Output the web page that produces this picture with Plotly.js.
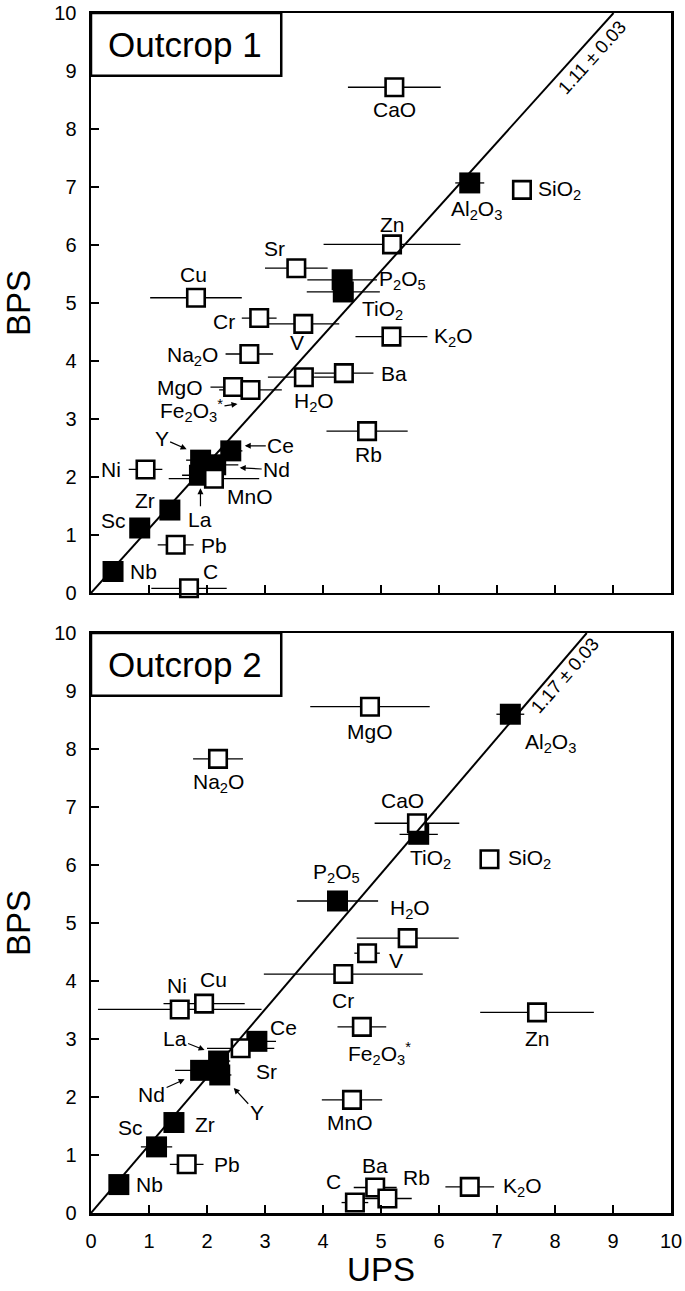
<!DOCTYPE html>
<html>
<head>
<meta charset="utf-8">
<script src="https://cdn.plot.ly/plotly-3.0.1.min.js"></script>
<style>
  body { margin: 0; background: #fff; }
  #chart { width: 685px; height: 1291px; }
</style>
</head>
<body>
<div id="chart"></div>
<script>
// ---- Outcrop 1 ----
// filled squares
var o1FillNames = ['Al<sub>2</sub>O<sub>3</sub>', 'P<sub>2</sub>O<sub>5</sub>', 'TiO<sub>2</sub>', 'Ce', 'Nd', 'Y', 'La', 'Zr', 'Sc', 'Nb'];
var o1FillUPS = [6.53, 4.33, 4.35, 2.41, 2.15, 1.89, 1.87, 1.36, 0.84, 0.38];
var o1FillBPS = [7.07, 5.40, 5.19, 2.45, 2.21, 2.29, 2.03, 1.43, 1.12, 0.37];
var o1FillErr = [0.25, 0.60, 0.63, 0.20, 0.39, 0.25, 0.30, 0, 0, 0];
// open squares
var o1OpenNames = ['CaO', 'SiO<sub>2</sub>', 'Zn', 'Sr', 'Cu', 'Cr', 'V', 'Na<sub>2</sub>O', 'MgO', 'Fe<sub>2</sub>O<sub>3</sub><sup>*</sup>',
                   'H<sub>2</sub>O', 'Ba', 'K<sub>2</sub>O', 'Rb', 'MnO', 'Ni', 'Pb', 'C'];
var o1OpenUPS = [5.23, 7.43, 5.19, 3.54, 1.81, 2.90, 3.66, 2.73, 2.45, 2.75, 3.67, 4.36, 5.18, 4.76, 2.12, 0.94, 1.46, 1.69];
var o1OpenBPS = [8.72, 6.95, 6.01, 5.60, 5.09, 4.74, 4.64, 4.12, 3.55, 3.50, 3.72, 3.79, 4.42, 2.79, 1.97, 2.13, 0.83, 0.08];
var o1OpenErr = [0.80, 0, 1.18, 0.54, 0.79, 0.30, 0.62, 0.41, 0.39, 0.54, 0.62, 0.51, 0.62, 0.70, 0.78, 0.29, 0.31, 0.65];
var o1Slope = 1.11;
var o1SlopeText = '1.11 \u00b1 0.03';

// ---- Outcrop 2 ----
var o2FillNames = ['Al<sub>2</sub>O<sub>3</sub>', 'TiO<sub>2</sub>', 'P<sub>2</sub>O<sub>5</sub>', 'Ce', 'La', 'Nd', 'Y', 'Zr', 'Sc', 'Nb'];
var o2FillUPS = [7.23, 5.65, 4.25, 2.86, 2.20, 1.89, 2.22, 1.43, 1.13, 0.48];
var o2FillBPS = [8.60, 6.53, 5.38, 2.96, 2.62, 2.46, 2.38, 1.56, 1.14, 0.49];
var o2FillErr = [0.24, 0.33, 0.70, 0.33, 0.20, 0.44, 0.20, 0, 0.27, 0];
var o2OpenNames = ['MgO', 'Na<sub>2</sub>O', 'CaO', 'SiO<sub>2</sub>', 'H<sub>2</sub>O', 'V', 'Cr', 'Zn', 'Fe<sub>2</sub>O<sub>3</sub><sup>*</sup>', 'MnO',
                   'Ni', 'Cu', 'Sr', 'Pb', 'Ba', 'C', 'Rb', 'K<sub>2</sub>O'];
var o2OpenUPS = [4.81, 2.19, 5.62, 6.87, 5.46, 4.76, 4.35, 7.69, 4.67, 4.50, 1.53, 1.95, 2.58, 1.65, 4.90, 4.55, 5.11, 6.53];
var o2OpenBPS = [8.73, 7.83, 6.72, 6.10, 4.74, 4.48, 4.12, 3.46, 3.21, 1.95, 3.51, 3.61, 2.84, 0.84, 0.44, 0.18, 0.25, 0.45];
var o2OpenErr = [1.03, 0.43, 0.73, 0, 0.88, 0.22, 1.37, 0.98, 0.42, 0.52, 1.41, 0.70, 0.58, 0.29, 0.37, 0.23, 0.42, 0.42];
var o2Slope = 1.17;
var o2SlopeText = '1.17 \u00b1 0.03';

// label placement in pixels relative to each point: [xshift, yshift, xanchor] or [xshift, yshift, 'arrow', ax, ay]
var o1FillLab = [[7,-27,'center'],[35,0,'left'],[17,-18,'left'],[14,5,'arrow',36,0],[24,-3,'arrow',37,2],
                 [-14,11,'arrow',-25,-11],[1,-13,'arrow',0,31],[-25,10,'center'],[-26,8,'center'],[15,0,'left']];
var o1OpenLab = [[0,-22,'center'],[14,0,'left'],[0,20,'center'],[-22,20,'center'],[-2,23,'center'],[-22,-3,'right'],
                 [-6,-19,'center'],[-29,-2,'right'],[-28,0,'right'],[-13,-14,'arrow',-46,7],[10,-25,'center'],
                 [35,0,'left'],[41,0,'left'],[1,-23,'center'],[36,-18,'center'],[-23,0,'right'],[23,-1,'left'],[21,17,'center']];
var o2FillLab = [[40,-29,'center'],[12,-25,'center'],[-1,28,'center'],[27,14,'center'],[-14,11,'arrow',-30,-12],
                 [-16,-9,'arrow',-33,15],[14,-13,'arrow',23,25],[19,-2,'left'],[-26,19,'center'],[15,0,'left']];
var o2OpenLab = [[0,-25,'center'],[0,-24,'center'],[-14,23,'center'],[17,0,'left'],[2,29,'center'],[20,-7,'left'],
                 [0,-26,'center'],[0,-26,'center'],[18,-27,'center'],[-2,-23,'center'],[-3,24,'center'],[9,24,'center'],
                 [26,-23,'center'],[25,0,'left'],[0,22,'center'],[-21,21,'center'],[29,21,'center'],[31,0,'left']];

var font = 'Liberation Sans, Arial, Helvetica, sans-serif';

function errX(arr) {
    return {type: 'data', array: arr, visible: true, color: 'black', thickness: 1.3, width: 0};
}

function openTrace(x, y, err, xa, ya) {
    return {x: x, y: y, mode: 'markers', type: 'scatter', xaxis: xa, yaxis: ya,
            error_x: errX(err), cliponaxis: false, hoverinfo: 'skip',
            marker: {symbol: 'square', size: 17.5, color: 'white', line: {color: 'black', width: 2.6}}};
}
function fillTrace(x, y, err, xa, ya) {
    return {x: x, y: y, mode: 'markers', type: 'scatter', xaxis: xa, yaxis: ya,
            error_x: errX(err), cliponaxis: false, hoverinfo: 'skip',
            marker: {symbol: 'square', size: 21, color: 'black', line: {width: 0}}};
}
function lineTrace(slope, xa, ya) {
    return {x: [0, 10 / slope], y: [0, 10], mode: 'lines', type: 'scatter', xaxis: xa, yaxis: ya,
            hoverinfo: 'skip', line: {color: 'black', width: 2}};
}

var annotations = [];
function addLabels(names, xs, ys, labs, xr, yr) {
    names.forEach(function(n, i) {
        var l = labs[i];
        var a = {text: n, x: xs[i], y: ys[i], xref: xr, yref: yr, xshift: l[0], yshift: l[1],
                 font: {family: font, size: 21, color: 'black'}, showarrow: false};
        if (l[2] == 'arrow') {
            a.showarrow = true; a.ax = l[3]; a.ay = l[4];
            a.arrowhead = 2; a.arrowsize = 1; a.arrowwidth = 1.2; a.arrowcolor = 'black'; a.standoff = 0;
        } else {
            a.xanchor = l[2];
        }
        annotations.push(a);
    });
}
addLabels(o1FillNames, o1FillUPS, o1FillBPS, o1FillLab, 'x', 'y');
addLabels(o1OpenNames, o1OpenUPS, o1OpenBPS, o1OpenLab, 'x', 'y');
addLabels(o2FillNames, o2FillUPS, o2FillBPS, o2FillLab, 'x2', 'y2');
addLabels(o2OpenNames, o2OpenUPS, o2OpenBPS, o2OpenLab, 'x2', 'y2');

annotations.push({text: 'Outcrop 1', x: 1.62, y: 9.46, xref: 'x', yref: 'y', showarrow: false,
                  font: {family: font, size: 35, color: 'black'}});
annotations.push({text: 'Outcrop 2', x: 1.62, y: 9.46, xref: 'x2', yref: 'y2', showarrow: false,
                  font: {family: font, size: 35, color: 'black'}});
annotations.push({text: o1SlopeText, x: 8.63, y: 9.24, xref: 'x', yref: 'y', showarrow: false, textangle: -48,
                  font: {family: font, size: 18.5, color: 'black'}});
annotations.push({text: o2SlopeText, x: 8.17, y: 9.26, xref: 'x2', yref: 'y2', showarrow: false, textangle: -49,
                  font: {family: font, size: 18.5, color: 'black'}});

var data = [
    fillTrace(o1FillUPS, o1FillBPS, o1FillErr, 'x', 'y'),
    openTrace(o1OpenUPS, o1OpenBPS, o1OpenErr, 'x', 'y'),
    lineTrace(o1Slope, 'x', 'y'),
    fillTrace(o2FillUPS, o2FillBPS, o2FillErr, 'x2', 'y2'),
    openTrace(o2OpenUPS, o2OpenBPS, o2OpenErr, 'x2', 'y2'),
    lineTrace(o2Slope, 'x2', 'y2')
];

function axis(extra) {
    var a = {range: [0, 10], dtick: 1, ticks: 'inside', ticklen: 8, tickwidth: 1.5, tickcolor: 'black',
             showline: true, linewidth: 2.5, linecolor: 'black', mirror: true, showgrid: false, zeroline: false,
             tickfont: {family: font, size: 20, color: 'black'}, ticklabelstandoff: 8, fixedrange: true};
    for (var k in extra) a[k] = extra[k];
    return a;
}

var layout = {
    width: 685, height: 1291,
    margin: {l: 91, r: 14, t: 13, b: 78},
    paper_bgcolor: 'white', plot_bgcolor: 'white',
    showlegend: false,
    font: {family: font, color: 'black'},
    xaxis: axis({domain: [0, 1], anchor: 'y', showticklabels: false}),
    yaxis: axis({domain: [0.5167, 1], anchor: 'x',
                 title: {text: 'BPS', font: {family: font, size: 33}, standoff: 20}}),
    xaxis2: axis({domain: [0, 1], anchor: 'y2',
                  title: {text: 'UPS', font: {family: font, size: 33}, standoff: 8}}),
    yaxis2: axis({domain: [0, 0.4833], anchor: 'x2',
                  title: {text: 'BPS', font: {family: font, size: 33}, standoff: 20}}),
    shapes: [
        {type: 'rect', xref: 'x', yref: 'y', x0: 0, x1: 3.28, y0: 8.92, y1: 10,
         line: {color: 'black', width: 2.5}, fillcolor: 'white'},
        {type: 'rect', xref: 'x2', yref: 'y2', x0: 0, x1: 3.28, y0: 8.92, y1: 10,
         line: {color: 'black', width: 2.5}, fillcolor: 'white'}
    ],
    annotations: annotations
};

Plotly.newPlot('chart', data, layout, {displayModeBar: false, staticPlot: true});
</script>
</body>
</html>
